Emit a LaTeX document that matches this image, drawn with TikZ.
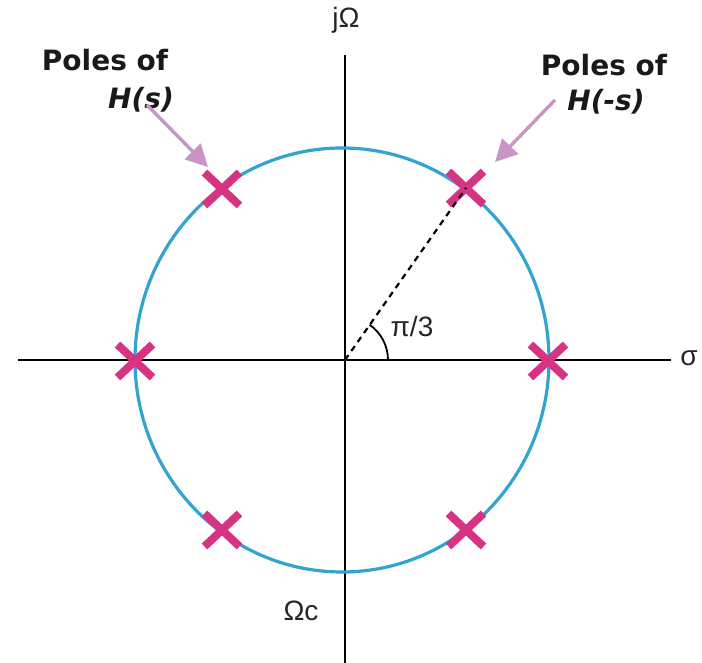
\documentclass[tikz,border=0pt]{standalone}
\usepackage{fontspec}
\setmainfont{Liberation Sans}
\newfontfamily\polefont{DejaVu Sans}
\usetikzlibrary{arrows.meta,shapes.misc}
\definecolor{circblue}{HTML}{33A3D0}
\definecolor{polemag}{HTML}{D63383}
\definecolor{arrpink}{HTML}{C995C5}
\tikzset{
  axisline/.style={line width=2.8pt,black},
  polemark/.style={cross out,draw=polemag,line width=8pt,minimum width=27pt,minimum height=25pt,inner sep=0pt},
  lab/.style={font=\fontsize{28}{30}\selectfont,inner sep=0pt,text=black!85},
  poletext/.style={font=\polefont\bfseries\fontsize{28}{31}\selectfont,text=black!90,inner sep=0pt},
  poleital/.style={font=\polefont\bfseries\itshape\fontsize{28}{31}\selectfont,text=black!90,inner sep=0pt},
  pointer/.style={arrpink,line width=3.4pt,-{Triangle[length=22pt,width=22pt]}}
}
\begin{document}
\begin{tikzpicture}[x=1pt,y=1pt]
\useasboundingbox (0,0) rectangle (702,663);
% axes
\coordinate (xl) at (18,303);
\coordinate (xr) at (671,303);
\coordinate (yt) at (345,608);
\coordinate (yb) at (345,0);
\coordinate (O) at (345,303);
\draw[axisline] (xl) -- (xr);
\draw[axisline] (yt) -- (yb);
% circle
\draw[circblue,line width=3.2pt] (342,303) ellipse [x radius=207,y radius=212];
% poles
\node[polemark] (p0) at (548,302) {};
\node[polemark] (p1) at (466,475) {};
\node[polemark] (p2) at (222,474) {};
\node[polemark] (p3) at (135,302) {};
\node[polemark] (p4) at (222,133) {};
\node[polemark] (p5) at (466,133) {};
% dashed radius and angle
\draw[line width=2.2pt,dash pattern=on 6pt off 5pt] (O) -- (p1.center);
\draw[line width=1.8pt] ([shift={(0:43)}]O) arc[start angle=0,end angle=55,radius=43];
% labels
\node[lab] (ang) at (412,336) {π/3};
\node[lab] (sig) at (689,305) {σ};
\node[lab] (jom) at (346,643) {jΩ};
\node[lab] (omc) at (301,52) {Ωc};
% pole annotations
\node[poletext] (pl1) at (105,603) {Poles of};
\node[poleital] (pl2) at (141,563) {H(s)};
\node[poletext] (pr1) at (604,598) {Poles of};
\node[poleital] (pr2) at (606,561) {H(-s)};
\coordinate (la) at (147,558);
\coordinate (lb) at (208,496);
\coordinate (ra) at (555,563);
\coordinate (rb) at (495,501);
\draw[pointer] (la) -- (lb);
\draw[pointer] (ra) -- (rb);
\end{tikzpicture}
\end{document}
